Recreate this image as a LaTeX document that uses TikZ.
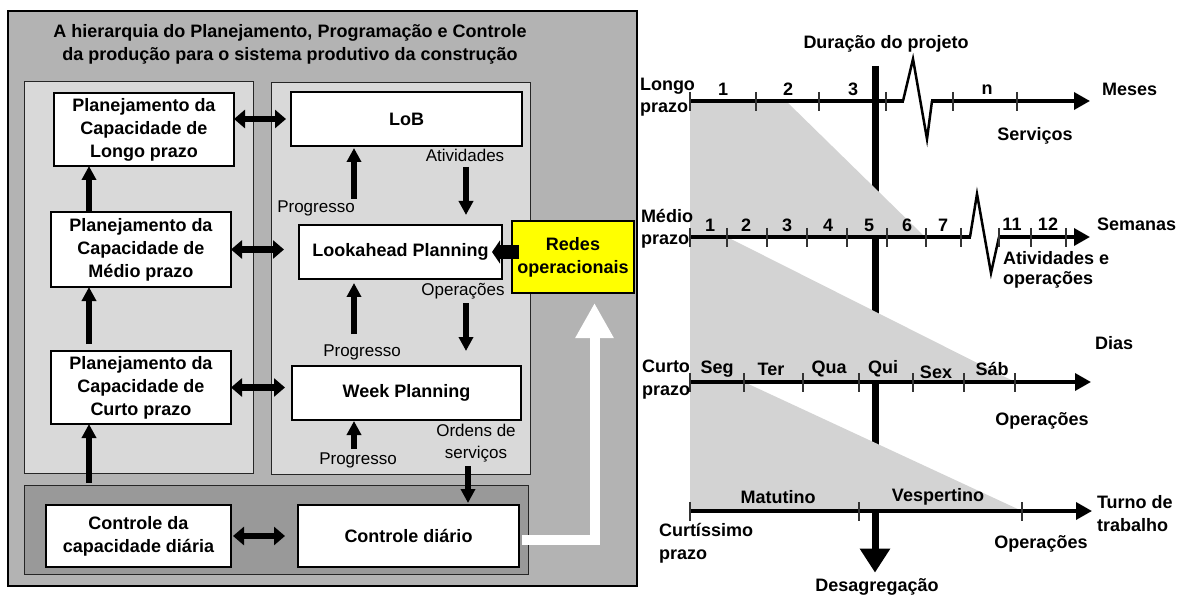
\documentclass[tikz,border=0pt]{standalone}
\usepackage{fontspec}
\setmainfont{Liberation Sans}
\usetikzlibrary{arrows.meta}
\definecolor{outerfill}{RGB}{179,179,179}
\definecolor{panelfill}{RGB}{217,217,217}
\definecolor{basefill}{RGB}{153,153,153}
\definecolor{wedge}{RGB}{211,211,211}
\definecolor{redesfill}{RGB}{255,255,0}
\definecolor{tickgray}{RGB}{51,51,51}
\begin{document}
\begin{tikzpicture}[x=1pt,y=-1pt,
  every node/.style={inner sep=0pt, outer sep=0pt},
  bfont/.style={font=\fontsize{18}{23}\selectfont\bfseries},
  rfont/.style={font=\fontsize{17}{22}\selectfont},
  frame/.style={draw=black, line width=1.5pt, fill=outerfill},
  panel/.style={draw=black!85, line width=1pt, fill=panelfill},
  box/.style={draw=black, line width=1.2pt, fill=white, bfont, align=center},
  dbl/.style={line width=6.5pt, {Triangle[length=11pt,width=18pt]}-{Triangle[length=11pt,width=18pt]}},
  fat/.style={line width=6pt, -{Triangle[length=14pt,width=14pt]}},
  axisline/.style={line width=3.5pt},
  axisarrow/.style={line width=3.5pt, -{Triangle[length=16pt,width=17pt]}},
  zig/.style={line width=2.5pt, line join=miter},
  tickmark/.style={line width=1.3pt, draw=tickgray},
  lab/.style={bfont},
  leftlab/.style={bfont, anchor=west, align=left}
]
\useasboundingbox (0,0) rectangle (1184,596);

% ---------- left block: hierarchy of planning ----------
\node[frame, minimum width=629pt, minimum height=575pt] (outer) at (322.5,298.5) {};
\node[bfont, align=center] (title) at (290,44.5)
  {A hierarquia do Planejamento, Programação e Controle\\da produção para o sistema produtivo da construção};

\node[panel, minimum width=229pt, minimum height=391pt] (lpanel) at (138.5,277.5) {};
\node[panel, minimum width=259pt, minimum height=391pt] (rpanel) at (400.5,278.5) {};
\node[draw=black!85, line width=1pt, fill=basefill, minimum width=504pt, minimum height=89pt] (bpanel) at (276,529.5) {};

\node[box, minimum width=180pt, minimum height=73pt] (pcl) at (144,129.5) {Planejamento da\\Capacidade de\\Longo prazo};
\node[box, minimum width=180pt, minimum height=75pt] (pcm) at (141,249.5) {Planejamento da\\Capacidade de\\Médio prazo};
\node[box, minimum width=180pt, minimum height=73pt] (pcc) at (141,387.5) {Planejamento da\\Capacidade de\\Curto prazo};
\node[box, minimum width=231pt, minimum height=54pt] (lob) at (406.5,119) {LoB};
\node[box, minimum width=203pt, minimum height=54pt] (look) at (400.5,252) {Lookahead Planning};
\node[box, minimum width=229pt, minimum height=54pt] (week) at (406.5,393) {Week Planning};
\node[box, minimum width=185pt, minimum height=62pt] (ccd) at (138.5,536) {Controle da\\capacidade diária};
\node[box, minimum width=221pt, minimum height=62pt] (cdi) at (408.5,536) {Controle diário};
\node[box, fill=redesfill, minimum width=122pt, minimum height=72pt] (redes) at (573,257) {Redes\\operacionais};

% flow labels
\node[rfont] (tAtiv) at (465,155) {Atividades};
\node[rfont] (tProg1) at (316,208) {Progresso};
\node[rfont] (tOper) at (463,291) {Operações};
\node[rfont] (tProg2) at (362,352) {Progresso};
\node[rfont] (tProg3) at (358,460) {Progresso};
\node[rfont, align=center] (tOrd) at (476,443) {Ordens de\\serviços};

% columns of the vertical arrows
\coordinate (colL) at (89,0);
\coordinate (colA) at (354,0);
\coordinate (colB) at (466,0);
\coordinate (wcol) at (594.5,0);

% two-way links between capacity levels and schedules
\draw[dbl, shorten >=5pt] (pcl.east |- lob.west) -- (lob.west);
\draw[dbl, shorten >=15pt] (pcm.east) -- (pcm.east -| look.west);
\draw[dbl, shorten >=7pt] (pcc.east) -- (pcc.east -| week.west);
\draw[dbl, shorten <=2pt, shorten >=13pt] (ccd.east) -- (ccd.east -| cdi.west);

% upward flow on the capacity side
\draw[fat] (colL |- pcm.north) -- (colL |- pcl.south);
\draw[fat, shorten <=7pt] (colL |- pcc.north) -- (colL |- pcm.south);
\draw[fat, shorten <=2pt] (colL |- bpanel.north) -- (colL |- pcc.south);

% progress reports
\draw[fat, shorten <=26pt, shorten >=2pt] (colA |- look.north) -- (colA |- lob.south);
\draw[fat, shorten <=32pt, shorten >=4pt] (colA |- week.north) -- (colA |- look.south);
\draw[fat, shorten <=56pt, shorten >=1pt] (colA |- cdi.north) -- (colA |- week.south);

% downward orders
\draw[fat, shorten <=21pt, shorten >=10pt] (colB |- lob.south) -- (colB |- look.north);
\draw[fat, shorten <=24pt, shorten >=15pt] (colB |- look.south) -- (colB |- week.north);
\draw[fat, shorten <=46pt, shorten >=2pt] ([xshift=2pt]colB |- week.south) -- ([xshift=2pt]colB |- cdi.north);

% operational networks feeding the lookahead
\draw[line width=14pt, -{Triangle[length=8pt,width=23pt]}, shorten <=-7pt, shorten >=-10pt]
  (redes.west |- look.east) -- (look.east);

% feedback from daily control
\draw[white, line width=10pt, line join=miter, -{Triangle[length=35pt,width=36pt]}, shorten >=10pt]
  ([xshift=3pt,yshift=-4pt]cdi.east) -| (wcol |- redes.south);

% ---------- right block: planning horizons ----------
\coordinate (dtop) at (875,66);
\node[lab] (desag) at (877,587) {Desagregação};
\draw[line width=7pt, -{Triangle[length=24pt,width=29pt]}, shorten >=6pt] (dtop) -- (dtop |- desag.north);

% shaded wedges of detail
\fill[wedge] (690,101) -- (786,101) -- (925,237) -- (690,237) -- cycle;
\fill[wedge] (690,237) -- (727,237) -- (1015,382) -- (690,382) -- cycle;
\fill[wedge] (690,382) -- (744,382) -- (1022,511) -- (690,511) -- cycle;

% long term axis
\draw[axisline] (690,101) -- (904,101);
\draw[zig] (903,101) -- (913,59) -- (927,139) -- (932,101);
\draw[axisarrow] (931,101) -- (1090,101);
\foreach \x in {690,756,819,886,953,1017} \draw[tickmark] (\x,92) -- (\x,111);

% medium term axis
\draw[axisline] (690,237) -- (971,237);
\draw[zig] (970,237) -- (977,194) -- (991,273) -- (999,237);
\draw[axisarrow] (998,237) -- (1090,237);
\foreach \x in {690,727,767,807,847,887,926,961,999,1031,1066} \draw[tickmark] (\x,228) -- (\x,247);

% short term axis
\draw[axisarrow] (690,382) -- (1091,382);
\foreach \x in {690,744,803,859,913,964,1015} \draw[tickmark] (\x,373) -- (\x,392);

% very short term axis
\draw[axisarrow] (690,511) -- (1092,511);
\foreach \x in {690,859,1022} \draw[tickmark] (\x,502) -- (\x,521);

% labels
\node[lab] (dur) at (886,44) {Duração do projeto};

\node[leftlab, font=\fontsize{18}{22}\selectfont\bfseries] (hLongo) at (640,97) {Longo\\prazo};
\node[leftlab, font=\fontsize{18}{22}\selectfont\bfseries] (hMedio) at (641,228.5) {Médio\\prazo};
\node[leftlab, font=\fontsize{18}{23}\selectfont\bfseries] (hCurto) at (642,380) {Curto\\prazo};
\node[leftlab] (hCurt) at (659,543.5) {Curtíssimo\\prazo};

\node[lab] (m1) at (723,89) {1};
\node[lab] (m2) at (788,89) {2};
\node[lab] (m3) at (853,89) {3};
\node[lab] (mn) at (987,90) {n};
\node[leftlab] (uMeses) at (1102,89) {Meses};
\node[lab] (uServ) at (1035,136) {Serviços};

\node[lab] (w1) at (710,225) {1};
\node[lab] (w2) at (746,225) {2};
\node[lab] (w3) at (787,225) {3};
\node[lab] (w4) at (828,225) {4};
\node[lab] (w5) at (869,225) {5};
\node[lab] (w6) at (907,225) {6};
\node[lab] (w7) at (943,225) {7};
\node[lab] (w11) at (1012,224) {11};
\node[lab] (w12) at (1048,224) {12};
\node[leftlab] (uSem) at (1097,224) {Semanas};
\node[leftlab, font=\fontsize{18}{20}\selectfont\bfseries] (uAtiv) at (1003,270) {Atividades e\\operações};

\node[lab] (dSeg) at (717,369) {Seg};
\node[lab] (dTer) at (771,369) {Ter};
\node[lab] (dQua) at (829,369) {Qua};
\node[lab] (dQui) at (883,369) {Qui};
\node[lab] (dSex) at (936,372) {Sex};
\node[lab] (dSab) at (992,369) {Sáb};
\node[leftlab] (uDias) at (1095,343) {Dias};
\node[lab] (uOp1) at (1042,421) {Operações};

\node[lab] (sMat) at (778,497) {Matutino};
\node[lab] (sVesp) at (938,497) {Vespertino};
\node[leftlab] (uTurno) at (1097,513.5) {Turno de\\trabalho};
\node[lab] (uOp2) at (1041,544) {Operações};
\end{tikzpicture}
\end{document}
